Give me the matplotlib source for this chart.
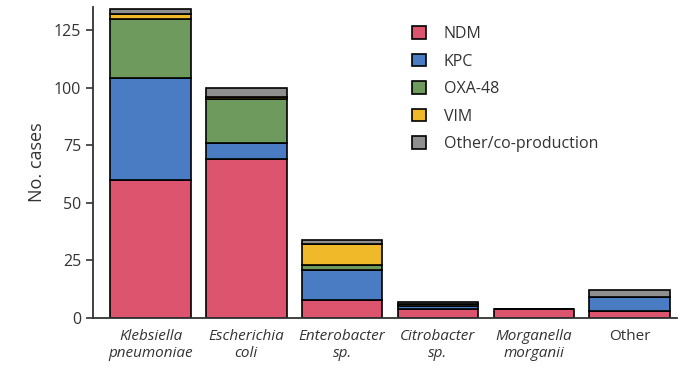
import numpy as np
import matplotlib.pyplot as plt
from matplotlib.patches import Patch

plt.rcParams['font.family'] = ['Open Sans', 'DejaVu Sans']

organisms = ["Klebsiella\npneumoniae", "Escherichia\ncoli", "Enterobacter\nsp.",
             "Citrobacter\nsp.", "Morganella\nmorganii", "Other"]
ndm = [60, 69, 8, 4, 4, 3]
kpc = [44, 7, 13, 1, 0, 6]
oxa48 = [26, 19, 2, 1, 0, 0]
vim = [2, 1, 9, 0, 0, 0]
other = [2, 4, 2, 1, 0, 3]

series = [("NDM", ndm, "#dc546e"),
          ("KPC", kpc, "#4a7cc4"),
          ("OXA-48", oxa48, "#6f9a5e"),
          ("VIM", vim, "#f0b92a"),
          ("Other/co-production", other, "#8f8f8f")]

fig = plt.figure(figsize=(6.86, 3.68), dpi=100)
ax = fig.add_axes([0.1356, 0.136, 0.852, 0.845])

x = np.arange(len(organisms))
bottom = np.zeros(len(organisms))
for name, vals, color in series:
    vals = np.array(vals, dtype=float)
    ax.bar(x, vals, 0.84, bottom=bottom, color=color, edgecolor="black",
           linewidth=1.2, label=name)
    bottom += vals

ax.set_xlim(-0.6, 5.5)
ax.set_ylim(0, 135)
ax.set_yticks([0, 25, 50, 75, 100, 125])
ax.tick_params(axis="y", labelsize=11.5, length=5, width=1.2, colors="#333333")
ax.set_xticks(x)
ax.set_xticklabels(organisms, fontsize=11, color="#333333", linespacing=1.15)
for lbl in ax.get_xticklabels()[:-1]:
    lbl.set_style("italic")
ax.tick_params(axis="x", length=0, pad=8)
ax.set_ylabel("No. cases", fontsize=13, color="#333333", labelpad=6)

for s in ["top", "right"]:
    ax.spines[s].set_visible(False)
for s in ["left", "bottom"]:
    ax.spines[s].set_linewidth(1.3)
    ax.spines[s].set_color("#333333")

handles = [Patch(facecolor=c, edgecolor="black", linewidth=1.2) for _, _, c in series]
ax.legend(handles, [n for n, _, _ in series], loc="upper left",
          bbox_to_anchor=(0.522, 0.985), frameon=False, fontsize=11.5,
          handlelength=0.85, handleheight=0.85, handletextpad=1.1,
          labelspacing=0.72, labelcolor="#333333")

fig.savefig("out.png", dpi=100)
